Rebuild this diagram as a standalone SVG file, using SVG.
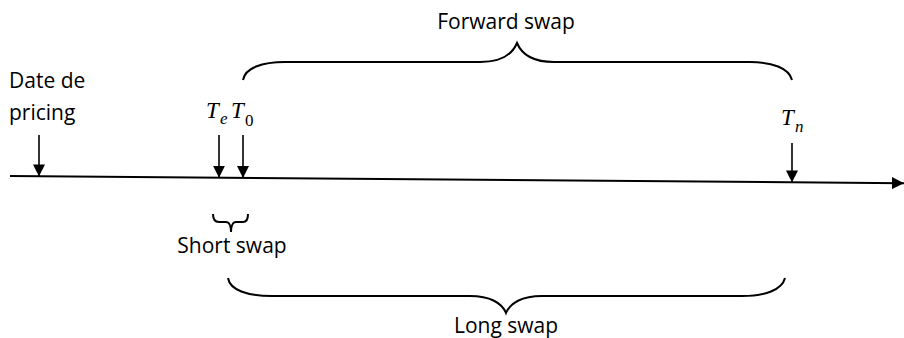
<svg xmlns="http://www.w3.org/2000/svg" width="904" height="338" viewBox="0 0 904 338">
  <defs>
    <marker id="tick" viewBox="0 0 12 12" refX="12" refY="6" markerWidth="12" markerHeight="12" markerUnits="userSpaceOnUse" orient="auto">
      <path d="M0,0 L12,6 L0,12 Z" fill="#000"/>
    </marker>
  </defs>
  <style>
    .lbl { font-family: "Open Sans", "Liberation Sans", sans-serif; font-size: 21px; fill: #000; }
    .math { font-family: "Liberation Serif", "DejaVu Serif", serif; font-style: italic; font-size: 23px; fill: #000; }
    .sub { font-family: "Liberation Serif", "DejaVu Serif", serif; font-style: italic; font-size: 17px; fill: #000; }
    .sub0 { font-family: "Liberation Serif", "DejaVu Serif", serif; font-size: 17px; fill: #000; }
    .brace { fill: none; stroke: #000; stroke-width: 2; }
    .axis { stroke: #000; stroke-width: 2; fill: none; }
    .ptr { stroke: #000; stroke-width: 1.6; fill: none; }
  </style>

  <!-- time axis and date pointers -->
  <g id="connectors">
    <line class="axis" x1="10" y1="176" x2="904" y2="183.2" marker-end="url(#tick)"/>
    <line class="ptr" x1="39" y1="135" x2="39" y2="176.4" marker-end="url(#tick)"/>
    <line class="ptr" x1="219" y1="135" x2="219" y2="177.8" marker-end="url(#tick)"/>
    <line class="ptr" x1="243" y1="135" x2="243" y2="178" marker-end="url(#tick)"/>
    <line class="ptr" x1="792" y1="143" x2="792" y2="182.4" marker-end="url(#tick)"/>
  </g>

  <!-- pricing date -->
  <g id="pricing">
    <text class="lbl" x="9" y="88">Date de</text>
    <text class="lbl" x="9" y="120">pricing</text>
  </g>

  <!-- expiry date -->
  <g id="te">
    <text class="math" x="206" y="118">T</text>
    <text class="sub" x="220" y="124">e</text>
  </g>

  <!-- start date -->
  <g id="t0">
    <text class="math" x="231" y="118">T</text>
    <text class="sub0" x="245" y="126">0</text>
  </g>

  <!-- end date -->
  <g id="tn">
    <text class="math" x="781" y="125">T</text>
    <text class="sub" x="795" y="132">n</text>
  </g>

  <!-- forward swap brace -->
  <g id="forward">
    <path class="brace" d="M243,80 C245,68 262,62 285,62 L480,62 C500,62 512,55 517,43 C522,55 534,62 554,62 L750,62 C772,62 789,68 792,80"/>
    <text class="lbl" x="506" y="29" text-anchor="middle">Forward swap</text>
  </g>

  <!-- short swap brace -->
  <g id="short">
    <path class="brace" d="M213,214 C213,220 215,222 219,222 L226,222 C229,222 231,226 231,232 C231,226 233,222 236,222 L243,222 C246,222 248,220 248,214"/>
    <text class="lbl" x="232" y="253" text-anchor="middle">Short swap</text>
  </g>

  <!-- long swap brace -->
  <g id="long">
    <path class="brace" d="M228,278 C230,290 247,296 272,296 L470,296 C490,296 502,303 506,313 C510,303 522,296 542,296 L742,296 C765,296 782,290 785,278"/>
    <text class="lbl" x="506" y="333" text-anchor="middle">Long swap</text>
  </g>
</svg>
